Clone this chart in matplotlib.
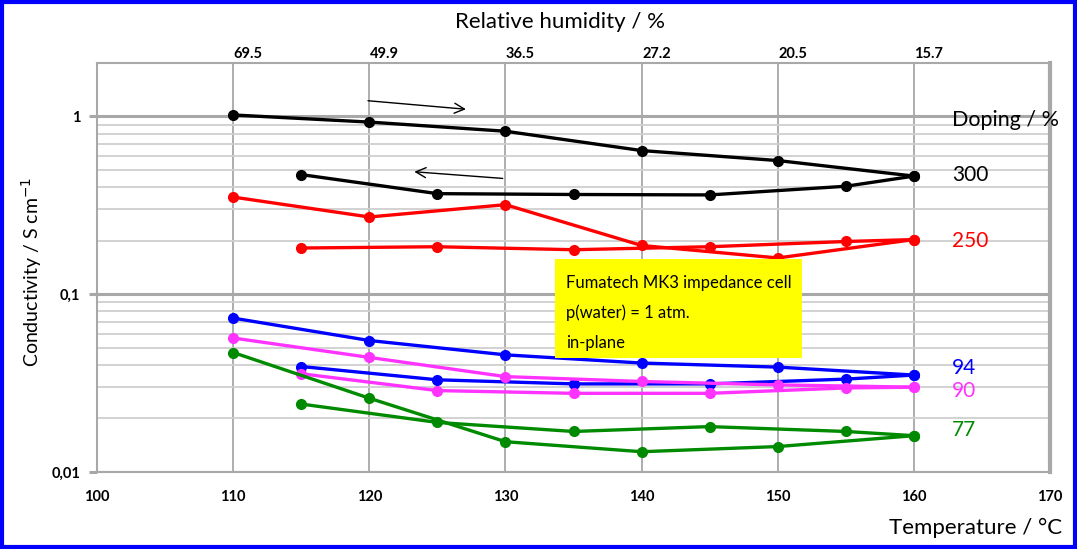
import matplotlib
matplotlib.use('Agg')
import matplotlib.pyplot as plt
from matplotlib.patches import Rectangle
from matplotlib.ticker import FixedLocator, NullFormatter

plt.rcParams['font.family'] = ['Lato', 'DejaVu Sans']

# temperature steps, heating (up) and cooling (down)
temp_up = [110, 120, 130, 140, 150, 160]
temp_down = [160, 155, 145, 135, 125, 115]

# conductivity / S cm-1 for each doping level
s300_up = [1.02, 0.93, 0.826, 0.643, 0.565, 0.462]
s300_down = [0.462, 0.405, 0.362, 0.364, 0.368, 0.471]
s250_up = [0.352, 0.272, 0.319, 0.188, 0.160, 0.203]
s250_down = [0.203, 0.198, 0.185, 0.178, 0.185, 0.182]
s94_up = [0.0734, 0.0549, 0.0456, 0.0410, 0.0389, 0.0351]
s94_down = [0.0351, 0.0333, 0.0313, 0.0313, 0.0330, 0.0392]
s90_up = [0.0567, 0.0441, 0.0344, 0.0323, 0.0309, 0.0300]
s90_down = [0.0300, 0.0297, 0.0277, 0.0277, 0.0287, 0.0357]
s77_up = [0.0470, 0.0260, 0.0148, 0.0130, 0.0139, 0.0160]
s77_down = [0.0160, 0.0169, 0.0180, 0.0169, 0.0190, 0.0241]

rh_temps = [110, 120, 130, 140, 150, 160]
rh_labels = ['69.5', '49.9', '36.5', '27.2', '20.5', '15.7']

series = [
    ('300', 'black', s300_up, s300_down, 0.47),
    ('250', '#ff0000', s250_up, s250_down, 0.198),
    ('94', '#0000ff', s94_up, s94_down, 0.0385),
    ('90', '#ff33ff', s90_up, s90_down, 0.0287),
    ('77', '#008a00', s77_up, s77_down, 0.0172),
]

fig = plt.figure(figsize=(10.77, 5.49), dpi=100)
ax = fig.add_axes([0.0901, 0.1403, 0.8849, 0.7450])
ax.set_yscale('log')
ax.set_xlim(100, 170)
ax.set_ylim(0.01, 2.0)

# grid
ax.yaxis.set_major_locator(FixedLocator([0.01, 0.1, 1]))
ax.yaxis.set_minor_locator(FixedLocator([k * 0.01 for k in range(2, 10)] + [k * 0.1 for k in range(2, 10)]))
ax.yaxis.set_minor_formatter(NullFormatter())
ax.set_yticks([0.01, 0.1, 1])
ax.set_yticklabels(['0,01', '0,1', '1'], fontweight='bold', fontsize=10.5)
ax.set_xticks(range(100, 171, 10))
ax.set_xticklabels([str(t) for t in range(100, 171, 10)], fontweight='bold', fontsize=10.5)
ax.grid(True, which='major', axis='y', color='#a8a8a8', lw=2.2)
ax.grid(True, which='minor', axis='y', color='#cfcfcf', lw=1.3)
ax.grid(True, which='major', axis='x', color='#a0a0a0', lw=1.2)
ax.tick_params(axis='y', which='major', length=6, width=2.2, color='#a8a8a8', pad=6)
ax.tick_params(axis='y', which='minor', length=0)
ax.tick_params(axis='x', length=0, pad=13)
for s in ax.spines.values():
    s.set_color('#a8a8a8')
    s.set_linewidth(1.5)
ax.spines['right'].set_linewidth(3)
ax.set_axisbelow(True)

for name, col, up, down, ylab in series:
    ax.plot(temp_up, up, '-o', color=col, lw=2.4, ms=7)
    ax.plot(temp_down, down, '-o', color=col, lw=2.4, ms=7)
    ax.text(162.8, ylab, name, color=col, fontsize=15, va='center', ha='left')

ax.text(162.8, 0.95, 'Doping / %', fontsize=15.5, va='center', ha='left')

# direction arrows
ax.annotate('', xy=(127.3, 1.095), xytext=(119.7, 1.23),
            arrowprops=dict(arrowstyle='->', color='black', lw=1, mutation_scale=18))
ax.annotate('', xy=(123.1, 0.49), xytext=(130.0, 0.447),
            arrowprops=dict(arrowstyle='->', color='black', lw=1, mutation_scale=18))

# info box
fig.patches.append(Rectangle((555 / 1077, 1 - 358 / 549), 247 / 1077, 99 / 549,
                             transform=fig.transFigure, facecolor='#ffff00', edgecolor='none', zorder=5))
for i, line in enumerate(['Fumatech MK3 impedance cell', 'p(water) = 1 atm.', 'in-plane']):
    fig.text(566 / 1077, 1 - (283 + 30 * i) / 549, line, fontsize=12, va='center', ha='left', zorder=6)

# relative humidity on top
for t, lab in zip(rh_temps, rh_labels):
    ax.text(t + 1.1, 2.04, lab, fontsize=10.5, fontweight='bold', ha='center', va='bottom')

fig.text(560 / 1077, 1 - 22 / 549, 'Relative humidity / %', fontsize=16, ha='center', va='center')
fig.text(1062 / 1077, 1 - 528 / 549, 'Temperature / \u00b0C', fontsize=16, ha='right', va='center')
fig.text(32 / 1077, 1 - 272 / 549, 'Conductivity / S cm$^{-1}$', fontsize=14, rotation=90,
         ha='center', va='center')

# blue frame around figure
fig.patches.append(Rectangle((0.002, 0.003), 0.996, 0.994, transform=fig.transFigure,
                             facecolor='none', edgecolor='#0000ff', lw=3))

fig.savefig('out.png', dpi=100)
